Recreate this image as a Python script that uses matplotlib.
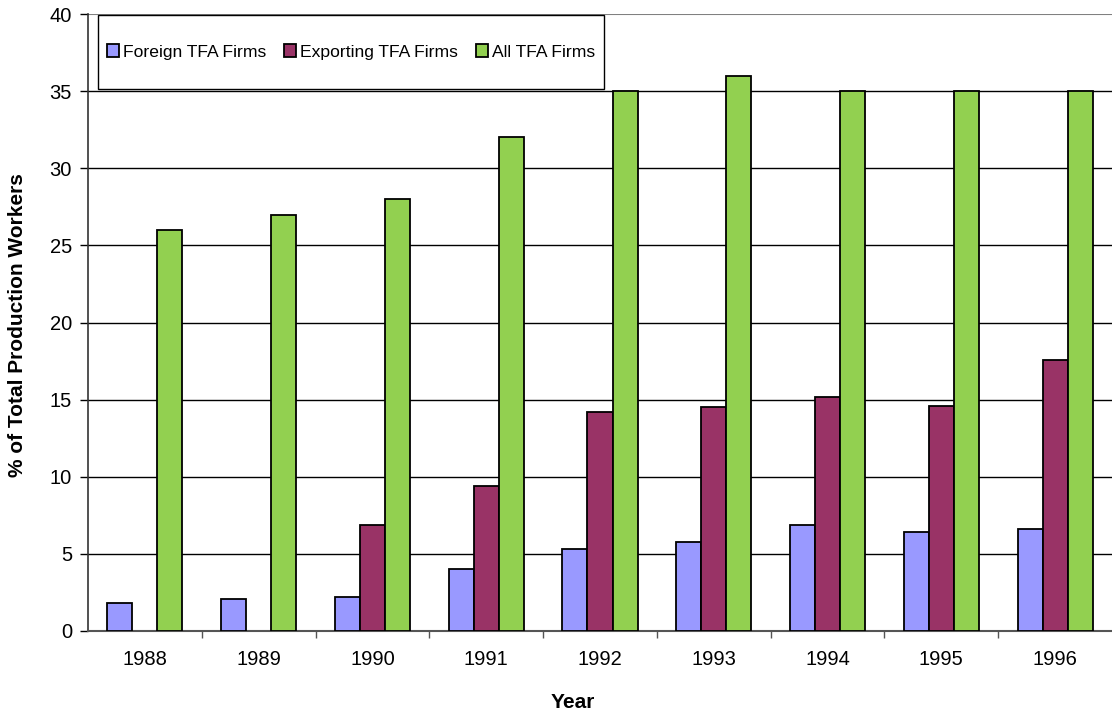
import numpy as np
import matplotlib
matplotlib.use("Agg")
import matplotlib.pyplot as plt
from matplotlib.patches import Rectangle

plt.rcParams['font.family'] = ['Liberation Sans', 'DejaVu Sans']

years = ['1988', '1989', '1990', '1991', '1992', '1993', '1994', '1995', '1996']
foreign = [1.8, 2.1, 2.2, 4.0, 5.3, 5.8, 6.9, 6.4, 6.6]
exporting = [np.nan, np.nan, 6.9, 9.4, 14.2, 14.5, 15.2, 14.6, 17.6]
all_tfa = [26, 27, 28, 32, 35, 36, 35, 35, 35]
series_names = ['Foreign TFA Firms', 'Exporting TFA Firms', 'All TFA Firms']
colors = ['#9999FF', '#993366', '#92D050']

W, H = 1112, 719
fig = plt.figure(figsize=(W / 100, H / 100), dpi=100)
ax = fig.add_axes([88 / W, 1 - 631 / H, (1112 - 88) / W, (631 - 14) / H])

x = np.arange(len(years))
bw = 0.22
for i, (vals, c, name) in enumerate(zip([foreign, exporting, all_tfa], colors, series_names)):
    ax.bar(x + (i - 1) * bw, vals, width=bw, color=c, edgecolor='black',
           linewidth=1.3, label=name, zorder=3)

ax.set_xlim(-0.5, len(years) - 0.5)
ax.set_ylim(0, 40)
ax.set_yticks(np.arange(0, 41, 5))
ax.set_xticks(x)
ax.set_xticklabels(years)
ax.set_xticks(np.arange(0.5, len(years) - 0.5, 1), minor=True)

# horizontal gridlines; the top one is lighter
for v in range(5, 40, 5):
    ax.axhline(v, color='black', linewidth=1.0, zorder=1)
ax.axhline(40, color='#808080', linewidth=1.5, zorder=1)

for s in ['top', 'right']:
    ax.spines[s].set_visible(False)
ax.spines['left'].set_color('#333333')
ax.spines['bottom'].set_color('#555555')
ax.spines['left'].set_linewidth(1.2)
ax.spines['bottom'].set_linewidth(1.5)

ax.tick_params(axis='y', direction='out', length=6, width=1, pad=5.5, labelsize=14.5, colors='black')
ax.tick_params(axis='x', which='major', length=0, pad=14, labelsize=14.5)
ax.tick_params(axis='x', which='minor', direction='out', length=5, width=1, color='#555555')

fig.text(18 / W, 1 - 325 / H, '% of Total Production Workers', rotation=90,
         ha='center', va='center', fontsize=15, fontweight='bold')
fig.text(573 / W, 1 - 703 / H, 'Year', ha='center', va='center',
         fontsize=15, fontweight='bold')

# legend box
x0, x1 = (98 - 88) / 1024, (604 - 88) / 1024
y0, y1 = (631 - 89) / 617, (631 - 15) / 617
ax.add_patch(Rectangle((x0, y0), x1 - x0, y1 - y0, transform=ax.transAxes,
                       facecolor='white', edgecolor='black', linewidth=1.0, zorder=5))
leg = ax.legend(loc='center', bbox_to_anchor=((x0 + x1) / 2, (y0 + y1) / 2),
                ncol=3, frameon=False, fontsize=12.6, handlelength=0.69,
                handleheight=0.69, handletextpad=0.23, columnspacing=1.0)
leg.set_zorder(6)

fig.savefig('out.png', dpi=100)
